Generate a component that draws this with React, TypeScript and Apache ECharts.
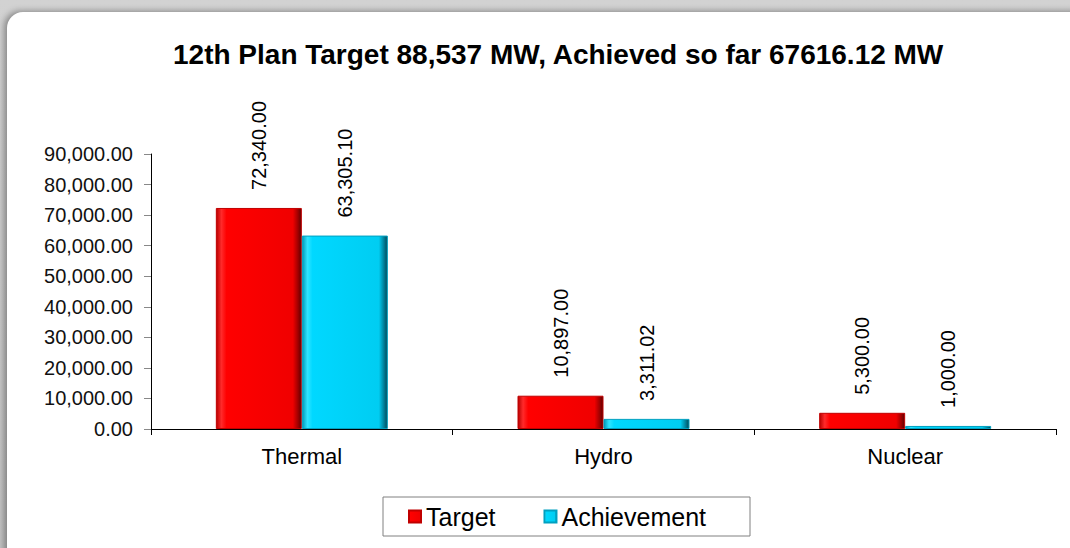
import React, { useEffect, useRef } from "react";
import * as echarts from "echarts";

const categories = ["Thermal", "Hydro", "Nuclear"];
const targetValues = [72340.0, 10897.0, 5300.0];
const achievementValues = [63305.1, 3311.02, 1000.0];
const seriesNames = ["Target", "Achievement"];
const titleText = "12th Plan Target 88,537 MW, Achieved so far 67616.12 MW";

const fmt = (v: number) =>
  v.toLocaleString("en-US", { minimumFractionDigits: 2, maximumFractionDigits: 2 });

const FONT = "'Liberation Sans', Arial, sans-serif";

export default function App() {
  const ref = useRef<HTMLDivElement>(null);
  useEffect(() => {
    document.body.style.margin = "0";
    if (!ref.current) return;
    const chart = echarts.init(ref.current, undefined, { renderer: "svg" });
    const redGrad = new echarts.graphic.LinearGradient(0, 0, 1, 0, [
      { offset: 0, color: "#b80000" },
      { offset: 0.06, color: "#ff2a2a" },
      { offset: 0.12, color: "#ff0000" },
      { offset: 0.9, color: "#f00000" },
      { offset: 0.96, color: "#a00000" },
      { offset: 1, color: "#600000" },
    ]);
    const cyanGrad = new echarts.graphic.LinearGradient(0, 0, 1, 0, [
      { offset: 0, color: "#0098b8" },
      { offset: 0.06, color: "#30e4ff" },
      { offset: 0.12, color: "#00d8ff" },
      { offset: 0.9, color: "#00cdf2" },
      { offset: 0.96, color: "#007f99" },
      { offset: 1, color: "#004a5a" },
    ]);
    const labelCfg = {
      show: true,
      position: "top",
      rotate: 90,
      align: "left",
      verticalAlign: "middle",
      distance: 18,
      fontSize: 20,
      fontFamily: FONT,
      color: "#000",
      formatter: (p: any) => fmt(p.value),
    };
    chart.setOption({
      animation: false,
      backgroundColor: "transparent",
      title: {
        text: titleText,
        left: 168,
        top: 35,
        textStyle: { fontSize: 28, fontWeight: "bold", fontFamily: FONT, color: "#000" },
      },
      legend: {
        left: 383,
        top: 497,
        data: seriesNames,
        icon: "rect",
        itemWidth: 12,
        itemHeight: 12,
        itemGap: 48,
        borderColor: "#808080",
        borderWidth: 1,
        padding: [7, 44, 7, 25],
        textStyle: { fontSize: 25, fontFamily: FONT, color: "#000" },
      },
      grid: { left: 151, right: 14, top: 154, bottom: 119 },
      xAxis: {
        type: "category",
        data: categories,
        axisLine: { lineStyle: { color: "#000", width: 1 } },
        axisTick: { show: true, length: 6, lineStyle: { color: "#000" } },
        axisLabel: { fontSize: 22, fontFamily: FONT, color: "#000", margin: 16 },
      },
      yAxis: {
        type: "value",
        min: 0,
        max: 90000,
        interval: 10000,
        splitLine: { show: false },
        axisLine: { show: true, lineStyle: { color: "#000", width: 1 } },
        axisTick: { show: true, length: 7, lineStyle: { color: "#888" } },
        axisLabel: {
          fontSize: 20,
          fontFamily: FONT,
          color: "#111",
          margin: 18,
          formatter: (v: number) => fmt(v),
        },
      },
      series: [
        {
          name: seriesNames[0],
          type: "bar",
          data: targetValues,
          barWidth: 86,
          barGap: "0%",
          itemStyle: { color: redGrad, borderColor: "#c00000", borderWidth: 1 },
          label: labelCfg,
        },
        {
          name: seriesNames[1],
          type: "bar",
          data: achievementValues,
          barWidth: 86,
          barGap: "0%",
          itemStyle: { color: cyanGrad, borderColor: "#00a0c0", borderWidth: 1 },
          label: labelCfg,
        },
      ],
    });
    return () => chart.dispose();
  }, []);
  return (
    <div
      style={{
        position: "relative",
        width: 1070,
        height: 548,
        overflow: "hidden",
        background: "linear-gradient(180deg, #d2d2d2 0%, #c4c4c4 100%)",
      }}
    >
      <div
        style={{
          position: "absolute",
          left: 7,
          top: 12,
          width: 1090,
          height: 560,
          background: "#fff",
          borderRadius: 16,
          boxShadow: "-3px -1px 6px rgba(0,0,0,0.35)",
        }}
      />
      <div ref={ref} style={{ position: "absolute", left: 0, top: 0, width: 1070, height: 548 }} />
    </div>
  );
}
